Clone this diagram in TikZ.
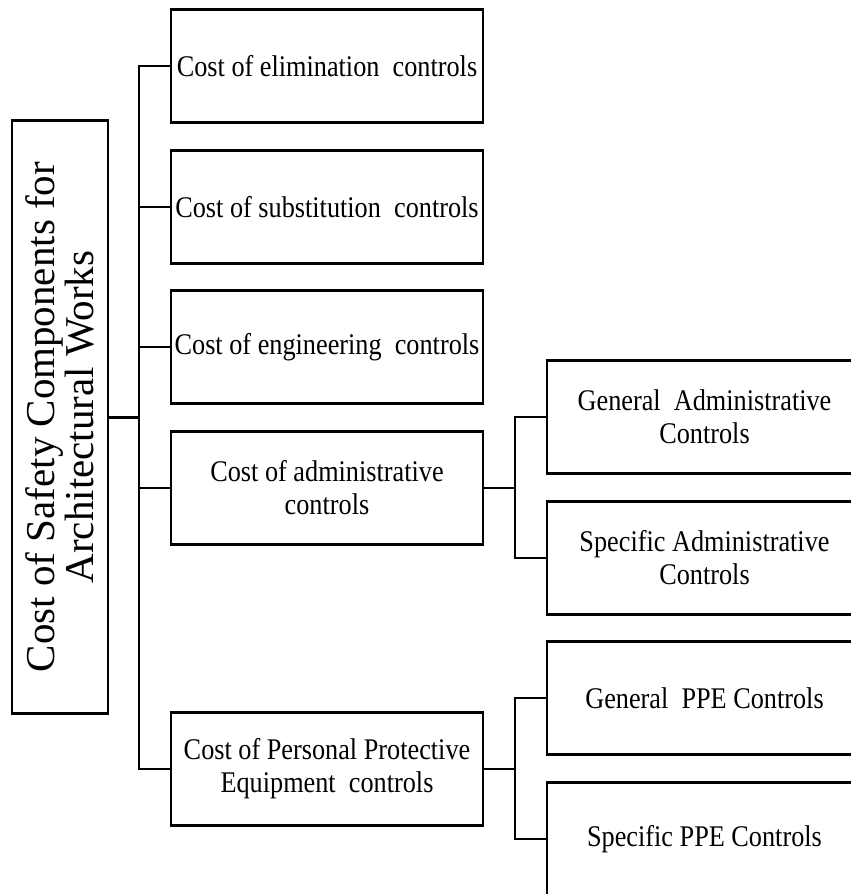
\documentclass[tikz,border=0pt]{standalone}
\usepackage{fontspec}
\setmainfont{Liberation Serif}
\newfontfamily\boxfont[FakeStretch=0.875]{Liberation Serif}
\begin{document}
\begin{tikzpicture}[x=1pt,y=-1pt,
    box/.style={draw, line width=2.6pt, inner sep=0pt, align=center,
      font=\boxfont\fontsize{30}{33}\selectfont},
    topbox/.style={box, minimum width=312pt, minimum height=113pt},
    subbox/.style={box, minimum width=315pt, minimum height=113pt},
    rootbox/.style={box, rotate=90, minimum width=593pt, minimum height=96pt,
      font=\fontsize{41}{37}\selectfont},
    link/.style={line width=2pt}]
      \clip (0,0) rectangle (851,894);
      \draw
        (60,417) node[rootbox] (root){Cost of Safety Components for\\Architectural Works}
        (327,66) node[topbox] (elim){Cost of elimination~ controls}
        (327,207) node[topbox] (subst){Cost of substitution~ controls}
        (327,347) node[topbox] (engin){Cost of engineering~ controls}
        (327,488) node[topbox] (admin){Cost of administrative\\controls}
        (327,769) node[topbox] (ppe){Cost of Personal Protective\\Equipment~ controls}
        (704.5,417) node[subbox] (genadm){General~ Administrative\\Controls}
        (704.5,558) node[subbox] (specadm){Specific Administrative\\Controls}
        (704.5,698) node[subbox] (genppe){General~ PPE Controls}
        (704.5,839) node[subbox] (specppe){Specific PPE Controls};
      \coordinate (trunk) at (139,417);
      \coordinate (admtrunk) at (515,488);
      \coordinate (ppetrunk) at (515,769);
      \begin{scope}[link]
        \draw[line width=3pt] (root) -- (trunk);
        \draw (trunk) |- (elim);
        \draw (trunk) |- (subst);
        \draw (trunk) |- (engin);
        \draw (trunk) |- (admin);
        \draw (trunk) |- (ppe);
        \draw (admin) -- (admtrunk);
        \draw (admtrunk) |- (genadm);
        \draw (admtrunk) |- (specadm);
        \draw (ppe) -- (ppetrunk);
        \draw (ppetrunk) |- (genppe);
        \draw (ppetrunk) |- (specppe);
      \end{scope}
    \end{tikzpicture}
\end{document}
